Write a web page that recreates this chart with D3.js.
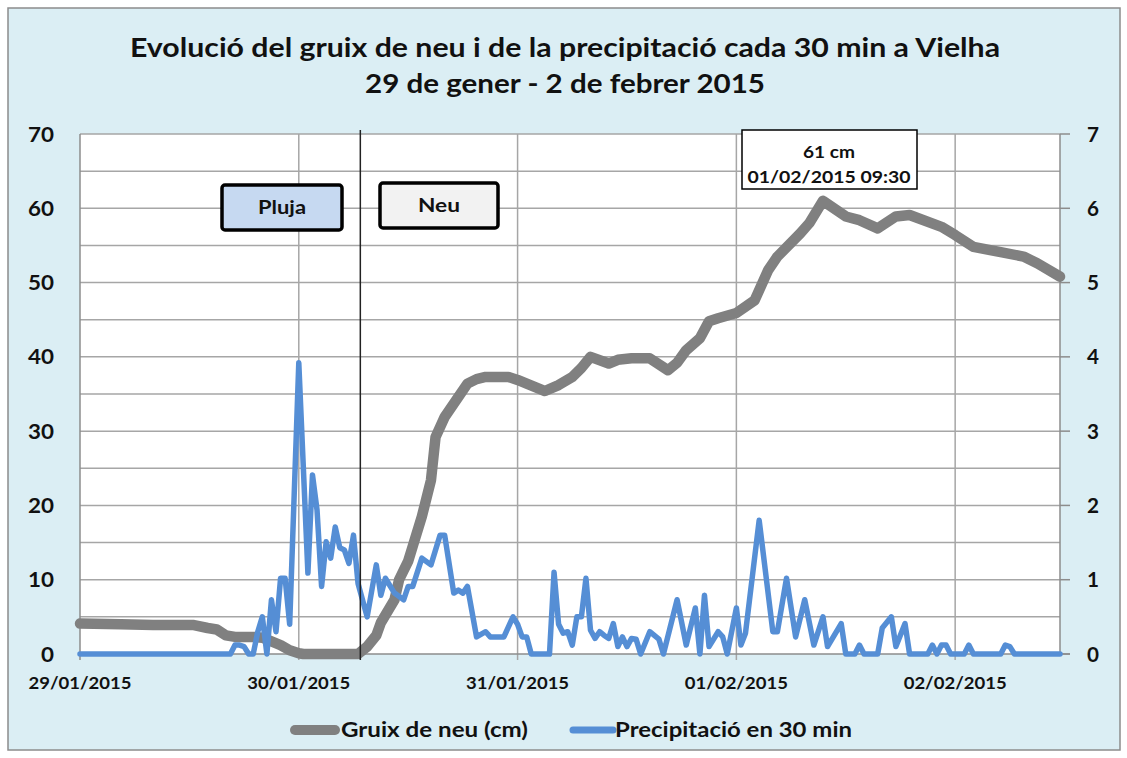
<!DOCTYPE html>
<html>
<head>
<meta charset="utf-8">
<script src="https://cdn.jsdelivr.net/npm/d3@7"></script>
<style>
  body { margin: 0; background: #fff; }
  text { font-family: Lato, 'Open Sans', sans-serif; font-weight: bold; fill: #111; }
</style>
</head>
<body>
<svg id="chart" width="1127" height="758"></svg>
<script>
// hours since 29/01/2015 00:00
const snowHours = [0, 4.5, 8, 12.5, 14, 15, 16, 17, 19, 20, 21, 22, 23, 24, 24.5, 30.5, 31.5, 32.5, 33, 34.5,
  35, 36, 36.5, 37.5, 38.5, 39, 40, 41.5, 42.5, 43.5, 44.5, 47, 48, 49, 51, 52.5, 54, 55, 56, 58,
  59, 60.5, 62.5, 64.5, 65.5, 66.5, 68, 69, 70, 72, 74, 75.5, 76.5, 79, 80, 81.5, 84, 85.5, 87.5, 89.5,
  91, 94.5, 96, 98, 101, 103.5, 105, 107.5]
const snowCm = [4.1, 4.0, 3.9, 3.9, 3.5, 3.3, 2.5, 2.3, 2.3, 2.2, 1.7, 1.2, 0.5, 0.1, 0, 0, 1.0, 2.5, 4.2, 7.3,
  10, 12.5, 14.5, 18.5, 23.4, 29.2, 31.9, 34.6, 36.4, 37, 37.3, 37.3, 36.9, 36.4, 35.4, 36.2, 37.3, 38.5, 40, 39.1,
  39.6, 39.8, 39.8, 38.2, 39.2, 40.9, 42.5, 44.8, 45.2, 45.9, 47.6, 51.7, 53.5, 56.6, 58, 61, 58.9, 58.4, 57.3, 58.9,
  59.1, 57.5, 56.4, 54.8, 54.1, 53.5, 52.6, 50.8]

const precHours = [0, 16.5, 17, 17.5, 18, 18.5, 19, 19.5, 20, 20.5, 21, 21.5, 22, 22.5, 23, 24, 25, 25.5, 26, 26.5,
  27, 27.5, 28, 28.5, 29, 29.5, 30, 30.5, 31.5, 32.5, 33, 33.5, 34.5, 35.5, 36, 36.5, 37.5, 38.5, 39.5, 40,
  41, 41.5, 42, 42.5, 43.5, 44.5, 45, 46.5, 47.5, 48, 48.5, 49, 49.5, 51.5, 52, 52.5, 53, 53.5, 54, 54.5,
  55, 55.5, 56, 56.5, 57, 57.5, 58, 58.5, 59, 59.5, 60, 60.5, 61, 61.5, 62.5, 63.5, 64, 65.5, 66.5, 67.5,
  68, 68.5, 69, 70, 70.5, 71, 72, 72.5, 73, 74.5, 76, 76.5, 77.5, 78.5, 79.5, 80.5, 81.5, 82, 83.5, 84,
  85, 85.5, 86, 87.5, 88, 89, 89.5, 90.5, 91, 93, 93.5, 94, 94.5, 95, 95.5, 97, 97.5, 98, 101, 101.5,
  102, 102.5, 107.5]
const precMm = [0, 0, 0.12, 0.12, 0.1, 0, 0, 0.3, 0.5, 0, 0.73, 0.3, 1.02, 1.02, 0.4, 3.92, 1.09, 2.41, 1.94, 0.91,
  1.51, 1.29, 1.71, 1.43, 1.4, 1.22, 1.6, 0.95, 0.5, 1.2, 0.79, 1.02, 0.82, 0.73, 0.91, 0.91, 1.29, 1.2, 1.6, 1.6,
  0.82, 0.86, 0.82, 0.91, 0.23, 0.3, 0.23, 0.23, 0.5, 0.4, 0.23, 0.23, 0, 0, 1.1, 0.4, 0.28, 0.3, 0.12, 0.5,
  0.5, 1.02, 0.32, 0.21, 0.3, 0.25, 0.21, 0.41, 0.1, 0.23, 0.1, 0.21, 0.2, 0, 0.3, 0.2, 0, 0.73, 0.12, 0.62,
  0, 0.79, 0.1, 0.3, 0.23, 0, 0.62, 0.12, 0.28, 1.8, 0.3, 0.3, 1.02, 0.23, 0.73, 0.12, 0.5, 0.1, 0.41, 0,
  0, 0.12, 0, 0, 0.35, 0.5, 0.1, 0.41, 0, 0, 0.12, 0, 0.12, 0.12, 0, 0, 0.12, 0, 0, 0.12,
  0.1, 0, 0]

const leftTicks = [0, 10, 20, 30, 40, 50, 60, 70]
const rightTicks = [0, 1, 2, 3, 4, 5, 6, 7]
const seriesNames = ['Gruix de neu (cm)', 'Precipitació en 30 min']
const seriesColors = ['#808080', '#558ed5']

const start = new Date(2015, 0, 29, 0, 0)
const end = new Date(2015, 1, 2, 11, 30)
const atHour = h => new Date(start.getTime() + h * 3600e3)
const peakHour = 81.5
const phaseChangeHour = 30.75

// the source image is a bit stretched sideways, so texts are fitted to a width
const fit = (sel, w) => sel.attr('textLength', w).attr('lengthAdjust', 'spacingAndGlyphs')

const svg = d3.select('#chart')
const m = { left: 80, right: 1060, top: 134, bottom: 654 }

svg.append('rect')
  .attr('x', 8).attr('y', 8).attr('width', 1112).attr('height', 742)
  .attr('fill', '#dbeef4').attr('stroke', '#8c8c8c').attr('stroke-width', 1.5)

const x = d3.scaleTime().domain([start, end]).range([m.left, m.right])
const y = d3.scaleLinear().domain([0, 70]).range([m.bottom, m.top])
const yR = d3.scaleLinear().domain([0, 7]).range([m.bottom, m.top])

// plot area
svg.append('rect')
  .attr('x', m.left).attr('y', m.top)
  .attr('width', m.right - m.left).attr('height', m.bottom - m.top)
  .attr('fill', '#fff')

// gridlines
const grid = svg.append('g').attr('stroke', '#a6a6a6').attr('stroke-width', 1.5)
grid.selectAll('.h').data(d3.range(5, 71, 5)).join('line')
  .attr('x1', m.left).attr('x2', m.right)
  .attr('y1', d => y(d)).attr('y2', d => y(d))
const days = d3.timeDay.range(atHour(24), end)
grid.selectAll('.v').data(days).join('line')
  .attr('x1', d => x(d)).attr('x2', d => x(d))
  .attr('y1', m.top).attr('y2', m.bottom + 6)

// axes lines
const ax = svg.append('g').attr('stroke', '#8c8c8c').attr('stroke-width', 1.5)
ax.append('line').attr('x1', m.left).attr('x2', m.left).attr('y1', m.top).attr('y2', m.bottom)
ax.append('line').attr('x1', m.right).attr('x2', m.right).attr('y1', m.top).attr('y2', m.bottom)
ax.append('line').attr('x1', m.left).attr('x2', m.right + 10).attr('y1', m.bottom).attr('y2', m.bottom)
ax.selectAll('.rt').data(rightTicks).join('line')
  .attr('x1', m.right).attr('x2', m.right + 10)
  .attr('y1', d => yR(d)).attr('y2', d => yR(d))
ax.append('line').attr('x1', m.left).attr('x2', m.left).attr('y1', m.bottom).attr('y2', m.bottom + 6)

// tick labels
svg.selectAll('.lt').data(leftTicks).join('text')
  .attr('x', 54).attr('y', d => y(d)).attr('dy', '0.36em')
  .attr('text-anchor', 'end').attr('font-size', 21)
  .text(d => d)
  .call(fit, d => String(d).length * 13)
svg.selectAll('.rtl').data(rightTicks).join('text')
  .attr('x', 1087).attr('y', d => yR(d)).attr('dy', '0.36em')
  .attr('font-size', 21)
  .text(d => d)
  .call(fit, 12)
svg.selectAll('.xt').data(d3.timeDay.range(start, end)).join('text')
  .attr('x', d => x(d)).attr('y', 689)
  .attr('text-anchor', 'middle').attr('font-size', 17)
  .text(d3.timeFormat('%d/%m/%Y'))
  .call(fit, 103)

// series
const snow = snowHours.map((h, i) => ({ t: atHour(h), v: snowCm[i] }))
const prec = precHours.map((h, i) => ({ t: atHour(h), v: precMm[i] }))

svg.append('path').datum(snow)
  .attr('fill', 'none').attr('stroke', seriesColors[0]).attr('stroke-width', 10.5)
  .attr('stroke-linejoin', 'round').attr('stroke-linecap', 'round')
  .attr('d', d3.line().x(d => x(d.t)).y(d => y(d.v)))

svg.append('path').datum(prec)
  .attr('fill', 'none').attr('stroke', seriesColors[1]).attr('stroke-width', 5.5)
  .attr('stroke-linejoin', 'round').attr('stroke-linecap', 'round')
  .attr('d', d3.line().x(d => x(d.t)).y(d => yR(d.v)))

// rain / snow change
svg.append('line')
  .attr('x1', x(atHour(phaseChangeHour))).attr('x2', x(atHour(phaseChangeHour)))
  .attr('y1', 130).attr('y2', 660)
  .attr('stroke', '#222').attr('stroke-width', 1.5)

const boxes = [
  { label: 'Pluja', x: 222, y: 185, w: 120, h: 45, fill: '#c6d9f1', tw: 48 },
  { label: 'Neu', x: 380, y: 183, w: 118, h: 45, fill: '#f2f2f2', tw: 42 }
]
const bg = svg.selectAll('.box').data(boxes).join('g')
bg.append('rect')
  .attr('x', d => d.x).attr('y', d => d.y).attr('width', d => d.w).attr('height', d => d.h)
  .attr('rx', 3).attr('fill', d => d.fill).attr('stroke', '#000').attr('stroke-width', 3.5)
bg.append('text')
  .attr('x', d => d.x + d.w / 2).attr('y', d => d.y + d.h / 2).attr('dy', '0.36em')
  .attr('text-anchor', 'middle').attr('font-size', 18).attr('fill', '#1c1c3a')
  .text(d => d.label)
  .call(fit, d => d.tw)

// peak label
const peak = snow[snowHours.indexOf(peakHour)]
const pg = svg.append('g')
pg.append('rect').attr('x', 742).attr('y', 130).attr('width', 175).attr('height', 59)
  .attr('fill', '#fff').attr('stroke', '#000').attr('stroke-width', 1.5)
pg.append('text').attr('x', 829).attr('y', 158).attr('text-anchor', 'middle').attr('font-size', 17)
  .text(`${Math.round(peak.v)} cm`)
  .call(fit, 52)
pg.append('text').attr('x', 829).attr('y', 183).attr('text-anchor', 'middle').attr('font-size', 17)
  .text(d3.timeFormat('%d/%m/%Y %H:%M')(peak.t))
  .call(fit, 163)

// title
svg.append('text').attr('x', 565).attr('y', 57).attr('text-anchor', 'middle')
  .attr('font-size', 27)
  .text('Evolució del gruix de neu i de la precipitació cada 30 min a Vielha')
  .call(fit, 870)
svg.append('text').attr('x', 565).attr('y', 93).attr('text-anchor', 'middle')
  .attr('font-size', 27)
  .text('29 de gener - 2 de febrer 2015')
  .call(fit, 400)

// legend
const legendX = [291, 569]
const legendW = [187, 237]
const lg = svg.selectAll('.lg').data(seriesNames).join('g')
  .attr('transform', (d, i) => `translate(${legendX[i]}, 730)`)
lg.append('line').attr('x1', 4).attr('x2', 44)
  .attr('stroke', (d, i) => seriesColors[i]).attr('stroke-width', (d, i) => i ? 7 : 10)
  .attr('stroke-linecap', 'round')
lg.append('text').attr('x', (d, i) => i ? 46 : 50).attr('dy', '0.36em').attr('font-size', 20)
  .text(d => d)
  .call(fit, (d, i) => legendW[i])
</script>
</body>
</html>
